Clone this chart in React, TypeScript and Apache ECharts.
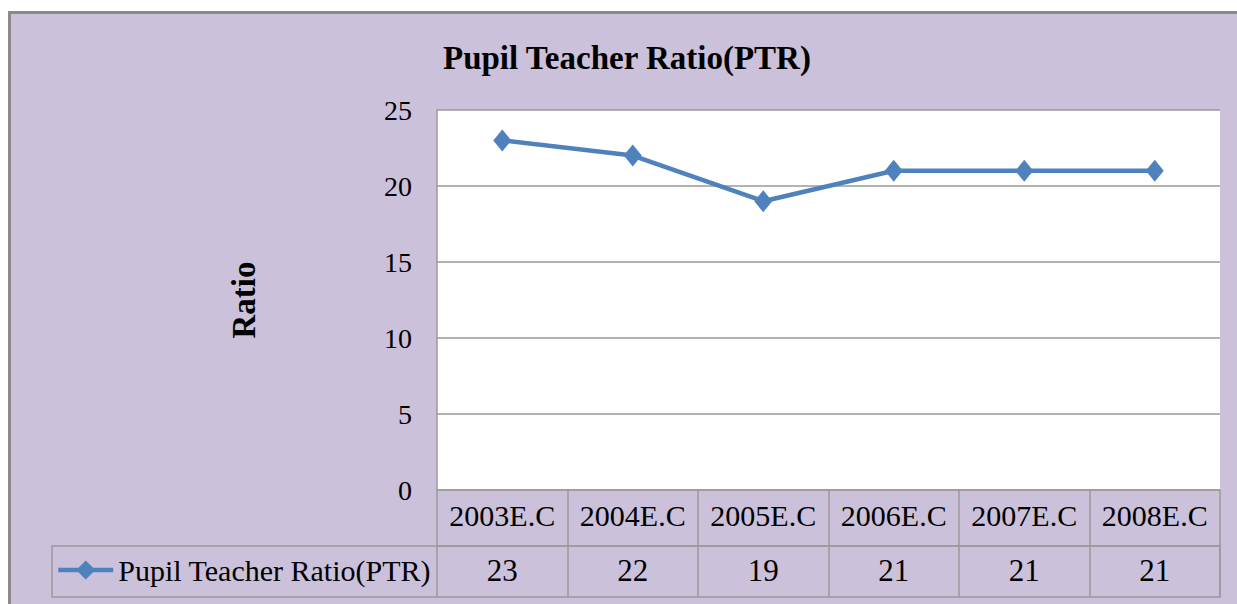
import React, { useEffect, useRef } from "react";
import * as echarts from "echarts";

const categories = ["2003E.C", "2004E.C", "2005E.C", "2006E.C", "2007E.C", "2008E.C"];
const ptrValues = [23, 22, 19, 21, 21, 21];
const seriesName = "Pupil Teacher Ratio(PTR)";
const chartTitle = "Pupil Teacher Ratio(PTR)";
const yAxisName = "Ratio";
const yMin = 0;
const yMax = 25;
const yInterval = 5;

export default function App() {
  const ref = useRef<HTMLDivElement>(null);
  useEffect(() => {
    const chart = echarts.init(ref.current!, null, { renderer: "svg" });
    const font = "Liberation Serif";
    const gray = "#9A9A9A";
    const blue = "#4F81BD";
    chart.setOption({
      animation: false,
      backgroundColor: "#ffffff",
      textStyle: { fontFamily: font, color: "#000" },
      title: {
        text: chartTitle,
        left: 443,
        top: 41,
        padding: 0,
        textStyle: { fontFamily: font, fontSize: 33, fontWeight: "bold", color: "#000" },
      },
      legend: {
        data: [seriesName],
        left: 56,
        top: 555,
        padding: 0,
        itemWidth: 55,
        itemHeight: 24,
        itemGap: 5,
        lineStyle: { width: 4.5 },
        textStyle: { fontFamily: font, fontSize: 30, fontWeight: "normal", color: "#000" },
      },
      grid: {
        left: 437,
        right: 17,
        top: 110,
        bottom: 114,
        show: true,
        backgroundColor: "#ffffff",
        borderWidth: 0,
      },
      xAxis: [
        {
          type: "category",
          data: categories,
          position: "bottom",
          axisLine: { show: true, lineStyle: { color: gray, width: 1.5 } },
          axisTick: { show: true, interval: 0, length: 56, lineStyle: { color: gray, width: 1.5 } },
          axisLabel: { interval: 0, fontSize: 30, color: "#000", margin: 10, fontFamily: font, fontWeight: "normal" },
          splitLine: { show: false },
        },
        {
          type: "category",
          data: ptrValues.map(String),
          position: "bottom",
          offset: 56,
          axisLine: { show: true, lineStyle: { color: gray, width: 1.5 } },
          axisTick: { show: true, interval: 0, length: 51, lineStyle: { color: gray, width: 1.5 } },
          axisLabel: { interval: 0, fontSize: 31, color: "#000", margin: 9, fontFamily: font, fontWeight: "normal" },
          splitLine: { show: false },
        },
      ],
      yAxis: {
        type: "value",
        min: yMin,
        max: yMax,
        interval: yInterval,
        axisLine: { show: true, lineStyle: { color: gray, width: 1.5 } },
        axisTick: { show: false },
        axisLabel: { fontSize: 28, margin: 25, color: "#000", fontFamily: font, fontWeight: "normal" },
        splitLine: { show: true, lineStyle: { color: gray, width: 1.5 } },
        name: yAxisName,
        nameLocation: "middle",
        nameGap: 177,
        nameRotate: 90,
        nameTextStyle: { fontSize: 33, fontWeight: "bold", fontFamily: font, color: "#000" },
      },
      series: [
        {
          name: seriesName,
          type: "line",
          data: ptrValues,
          xAxisIndex: 0,
          symbol: "diamond",
          symbolSize: [18, 22],
          lineStyle: { color: blue, width: 4.5 },
          itemStyle: { color: blue },
        },
      ],
      graphic: [
        {
          type: "rect",
          z: -100,
          silent: true,
          shape: { x: 9.5, y: 12.5, width: 1300, height: 700 },
          style: { fill: "#CBC1DA", stroke: "#8A8A8A", lineWidth: 3 },
        },
        {
          type: "rect",
          silent: true,
          shape: { x: 52, y: 546, width: 1168, height: 51 },
          style: { fill: "none", stroke: gray, lineWidth: 1.5 },
        },
      ],
    });
    return () => chart.dispose();
  }, []);
  return (
    <div
      ref={ref}
      style={{ position: "absolute", left: 0, top: 0, width: 1237, height: 604 }}
    />
  );
}
